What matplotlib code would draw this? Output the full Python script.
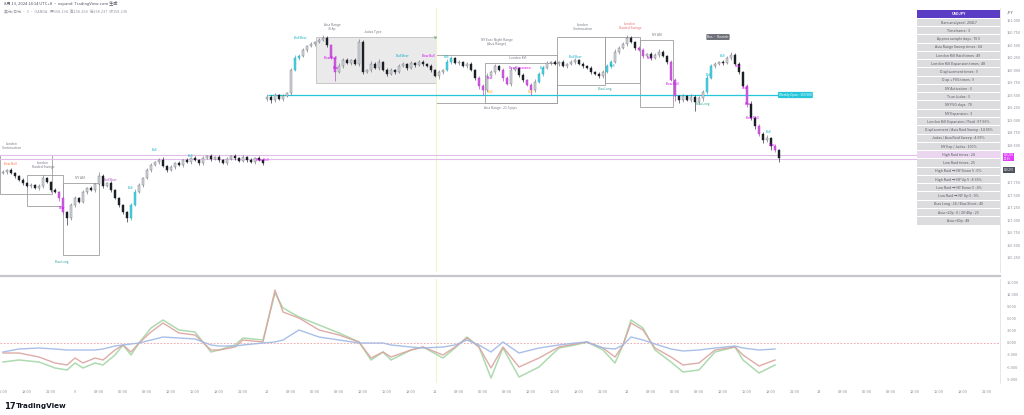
import matplotlib
matplotlib.use("Agg")
import matplotlib.pyplot as plt
from matplotlib.patches import Rectangle
from matplotlib.transforms import blended_transform_factory

plt.rcParams['font.family'] = ['Noto Sans CJK SC', 'DejaVu Sans']

W, H = 1024, 415

# ---- price data (3m USDJPY) ----
closes = [
    157.96, 158.00, 157.94, 157.88, 157.80, 157.74, 157.68, 157.70, 157.64, 157.68,
    157.84, 157.76, 157.60, 157.56, 157.44, 157.16, 157.04, 157.30, 157.44, 157.36,
    157.56, 157.64, 157.60, 157.72, 157.88, 157.68, 157.74, 157.60, 157.44, 157.30,
    157.16, 157.04, 157.30, 157.56, 157.70, 157.84, 158.00, 158.10, 158.16, 158.20,
    158.08, 158.00, 158.06, 158.14, 158.10, 158.20, 158.16, 158.24, 158.20, 158.14,
    158.24, 158.28, 158.22, 158.26, 158.20, 158.14, 158.22, 158.28, 158.24, 158.18,
    158.26, 158.20, 158.16, 158.24, 158.20, 158.14,
    159.46, 159.40, 159.50, 159.42, 159.48, 159.54, 160.00, 160.24, 160.28, 160.40,
    160.48, 160.52, 160.56, 160.60, 160.64, 160.50, 160.24, 159.96, 160.08, 160.20,
    160.14, 160.20, 160.12, 160.56, 159.96, 160.00, 160.12, 160.04, 160.16, 160.00,
    159.92, 160.00, 159.96, 160.08, 160.12, 160.04, 160.14, 160.10, 160.16, 160.12,
    160.08, 160.00, 159.88, 159.96, 160.00, 160.16, 160.24, 160.14, 160.16, 160.08,
    160.12, 160.00, 159.84, 159.68, 159.60, 159.88, 159.96, 160.08, 160.00, 159.84,
    159.72, 160.00, 160.04, 159.90, 159.80, 159.70, 159.60, 159.76, 159.92, 160.04,
    160.14, 160.16, 160.12, 160.16, 160.08, 160.12, 160.16, 160.20, 160.12, 160.08,
    160.04, 159.96, 159.92, 159.88, 159.96, 160.08, 160.16, 160.36, 160.44, 160.52,
    160.64, 160.56, 160.44, 160.40, 160.28, 160.32, 160.24, 160.30, 160.36, 160.28,
    160.16, 159.80, 159.48, 159.40, 159.48, 159.40, 159.46, 159.36, 159.44, 159.56,
    159.84, 160.08, 160.12, 160.16, 160.14, 160.24, 160.30, 160.12, 159.96, 159.68,
    159.32, 159.04, 158.88, 158.72, 158.60, 158.64, 158.48, 158.40, 158.24,
]
first_open = 157.94
gap_bar, gap_open = 66, 159.42
wick_step = 0.02
upper_wick = ("2121121212" "3112111221" "2121421211" "1123212212" "3121212121"
              "2121212121" "2121213221" "2123221212" "3212322123" "2132312212"
              "2121221212" "1321212212" "2322122321" "2123222121" "2122121212"
              "2223223212" "2122321221" "2132223221" "2232212322" "23121")
lower_wick = ("1212121212" "2121327221" "1212121212" "2421121212" "1212121212"
              "2121212121" "1212122321" "2121212121" "1219121212" "2121212121"
              "1212121213" "2121212123" "5212131212" "2152121212" "1212121212"
              "2121212121" "2121212153" "2129232121" "2121213232" "32424")
magenta_bars = [14, 15, 82, 83, 119, 120, 125, 126, 131, 132, 159, 160, 167, 168, 186, 189, 193]
cyan_bars = [32, 33, 73, 74, 111, 112, 134, 135, 151, 152, 176, 177]

# ---- drawings on the chart ----
boxes = [(-0.75, 12.25, 158.30, 157.52), (6, 15, 157.90, 157.28), (15, 24, 157.74, 156.30),
         (78.25, 108.25, 160.66, 159.74), (108.25, 138.5, 160.30, 159.34),
         (120.5, 138.5, 160.14, 159.34), (138.5, 150.5, 160.66, 159.70),
         (150.5, 159.25, 160.66, 159.74), (159.25, 167.5, 160.60, 159.26)]
box_fill = [False, False, False, True, False, False, False, False, False]
box_text = ["London\nContinuation", "London\nRaided Swings", "NY AM", "Asia Range\n33.8p",
            "Judas Type", "NY Exec Night Range\n(Asia Range)", "London Kill",
            "Asia Range : 21.5 pips", "London\nContinuation", "London\nRaided Swings", "NY AM"]
box_text_x = [2.25, 10, 19.25, 82.25, 92.5, 123.5, 128.75, 124.25, 145, 156.75, 163.5]
box_text_y = [158.40, 158.02, 157.80, 160.78, 160.72, 160.48, 160.20, 159.20, 160.78, 160.80, 160.66]
box_text_c = ['#787b86'] * 9 + ['#e57373', '#787b86']

MG, CY, OR, GR = '#d500f9', '#00acc1', '#ffa000', '#26a69a'
tag_text = ["Bear Bull", "Bear", "Bull Bear", "Bull", "Bull", "Bull", "Bear Bull", "Bias Long",
            "Bull Bear", "Bear Bull", "Bear", "Bull Bear", "Bear Bull", "Bull", "Bear", "Bull",
            "Bear Expansion", "Bull", "Bull", "Bull Bear", "Bias Long", "Bull", "Bear", "Bear Bull",
            "Bias Long", "Bull", "Bull", "Bear", "Bear", "Bear", "Bear Bull", "Bull", "Bear"]
tag_x = [1.75, 14.75, 26.75, 31.75, 38, 46.75, 64.75, 14.75, 74.25, 81.75, 83.25, 99.75, 106.25,
         111, 121.75, 121.75, 129.25, 131.75, 134.75, 143, 150.5, 152.25, 161.75, 167.25, 175,
         176.25, 179.75, 183.75, 185.5, 186.25, 187.25, 191.25, 192.25]
tag_y = [158.12, 157.24, 157.80, 157.64, 158.40, 158.28, 158.20, 156.16, 160.64, 160.24, 160.04,
         160.28, 160.28, 160.26, 159.84, 159.56, 160.04, 159.56, 160.04, 160.26, 159.62, 160.08,
         160.24, 159.72, 159.32, 159.90, 160.28, 160.08, 159.64, 159.32, 159.04, 158.76, 158.50]
tag_c = ['#ff7043', MG, '#ab47bc', CY, CY, CY, MG, GR, CY, MG, MG, CY, MG, CY, MG, OR,
         MG, OR, CY, CY, GR, CY, MG, MG, GR, CY, CY, MG, MG, MG, MG, CY, MG]

weekly_open = 159.50
raid_levels = [158.30, 158.22]
last_price, last_label, ref_price, ref_label = 158.26, "158.238", 158.00, "158.270"

# ticks under the two price tags are hidden, as on the reference
price_ticks = [156.25, 156.50, 156.75, 157.00, 157.25, 157.50, 157.75,
               158.50, 158.75, 159.00, 159.25, 159.50, 159.75, 160.00, 160.25, 160.50,
               160.75, 161.00]

# ---- oscillator panel ----
osc_x = [0, 4, 9, 13, 16, 18, 20, 23, 25, 28, 30, 32, 34, 37, 40, 44, 48, 52, 54, 58,
         60, 65, 68, 70, 74, 79, 84, 89, 92, 95, 97, 102, 105, 110, 113, 116, 119, 122, 125, 129,
         134, 139, 143, 146, 150, 153, 155, 157, 160, 163, 167, 170, 174, 178, 183, 185, 189, 193]
osc_blue = [-2.25, -1.5, -1.25, -1.5, -1.75, -1.75, -1.75, -1.75, -1.5, -0.75,
            -0.5, -0.25, 0, 0.75, 1.5, 1.25, 1.0, -0.5, -0.75, -0.75,
            -0.5, 0, 0.25, 0.75, 3.25, 1.5, 0.75, 0, 0, 0,
            -0.5, -1.0, -1.25, -1.0, -0.5, 0.75, -0.5, -2.25, 0.25, -2.5,
            -1.25, -0.5, 0, 0.25, -1.25, -1.5, -0.5, 1.5, 0.75, -0.25,
            -1.5, -2.0, -1.75, -1.25, -0.75, -1.25, -1.75, -1.5]
osc_red = [-2.5, -2.5, -3.5, -5, -5.5, -3.75, -5, -3.75, -4.25, -1.75,
           -0.5, -2.25, 0, 2.75, 5, 2.5, 2, -1.75, -1.75, -1,
           0.75, 0.25, 13.25, 7.75, 6.25, 3.25, 2, 0.25, -3.75, -2.25,
           -3.5, -1.75, -1, -3, -1, 1.25, -1, -6.25, -1, -6,
           -3.75, -1, -0.25, 0.25, -1.25, -3.5, -0.5, 5, 3.25, -1.25,
           -3.5, -5.5, -5, -1.75, -1, -3, -5.75, -4.25]
osc_green = [-4.75, -4.25, -4.75, -6.25, -6.75, -5, -6.25, -5, -5.5, -3,
             -0.5, -3, 0, 3.75, 5.75, 3.25, 2.75, -2.25, -1.75, -0.5,
             1.25, 0.75, 12.5, 8.75, 6.5, 4.5, 2.5, 0.25, -4.25, -2.25,
             -4.25, -1.75, -1, -3.75, -1.25, 1.5, -1, -8.75, -1.25, -8.5,
             -6, -1.25, -0.5, 0.25, -1.75, -5, -0.5, 5.75, 3.75, -1.75,
             -4.75, -7.25, -6.75, -2.25, -1, -4.25, -7.5, -5.5]
osc_ticks = [-9, -6, -3, 0, 3, 6, 9, 12, 15]

time_labels = ["15:00", "18:00", "21:00", "9", "03:00", "06:00", "09:00", "12:00", "15:00",
               "18:00", "21:00", "10", "03:00", "06:00", "09:00", "12:00", "15:00", "18:00",
               "11", "03:00", "06:00", "09:00", "12:00", "15:00", "18:00", "21:00", "12",
               "03:00", "06:00", "09:00", "12:00", "15:00", "18:00", "21:00", "13", "03:00",
               "06:00", "09:00", "12:00", "15:00", "18:00", "21:00"]

table_rows = ["USDJPY", "Bars analyzed : 20417", "Timeframe : 3", "Approx sample days : 70.9",
              "Asia Range Sweep times : 64", "London Kill Raid times : 49",
              "London Kill Expansion times : 48", "Displacement times : 9", "Disp + FVG times : 9",
              "NY Activation : 3", "True Judas : 3", "NY FVG days : 70", "NY Expansion : 3",
              "London Kill Expansion / Raid : 97.96%", "Displacement / Asia Raid Sweep : 14.06%",
              "Judas / Asia Raid Sweep : 4.69%", "NY Exp / Judas : 100%", "High Raid times : 24",
              "Low Raid times : 25", "High Raid → NY Down 5 : 0%", "High Raid → NY Up 5 : 8.33%",
              "Low Raid → NY Down 5 : 4%", "Low Raid → NY Up 5 : 0%",
              "Bias Long : 24 / Bias Short : 40", "Asia <20p : 0 / 20-40p : 23", "Asia >40p : 48"]


def fig_rect(x0, y0, x1, y1):
    # pixel box -> figure fraction [left, bottom, width, height]
    return [x0 / W, 1 - y1 / H, (x1 - x0) / W, (y1 - y0) / H]


fig = plt.figure(figsize=(W / 100, H / 100), dpi=100)
fig.patch.set_facecolor('white')
axis_col = '#8a8e99'
xlim = (-0.75, 249.25)
day_line = '#eef3c8'

# ---- main price panel ----
ax = fig.add_axes(fig_rect(0, 8, 1000, 272))
ax.set_xlim(*xlim)
ax.set_ylim(155.96, 161.24)
for s in ['left', 'top', 'bottom']:
    ax.spines[s].set_visible(False)
ax.spines['right'].set_color('#e0e3eb')
ax.spines['right'].set_linewidth(0.6)
ax.set_xticks([])
ax.yaxis.tick_right()
ax.set_yticks(price_ticks)
ax.set_yticklabels([f"{p:.3f}" for p in price_ticks])
ax.tick_params(axis='y', length=0, labelsize=2.8, labelcolor=axis_col, pad=5)

for (x0, x1, top, bot), filled in zip(boxes, box_fill):
    ax.add_patch(Rectangle((x0, bot), x1 - x0, top - bot, facecolor='#dcdcdc' if filled else 'none',
                           alpha=0.6 if filled else 1, edgecolor='#9e9e9e', lw=0.6, zorder=1))
for t, x, y, c in zip(box_text, box_text_x, box_text_y, box_text_c):
    ax.text(x, y, t, fontsize=2.4, color=c, ha='center', va='bottom', linespacing=1.1, zorder=5)

ax.axvline(108.25, color=day_line, lw=0.7, zorder=1)
for lv in raid_levels:
    ax.axhline(lv, color='#e1bee7', lw=0.8, zorder=1)
ax.hlines(weekly_open, 66.25, 193.75, color='#26c6da', lw=0.9, zorder=2)
ax.text(194, weekly_open, "Weekly Open : 159.500", fontsize=2.3, color='white', ha='left', va='center',
        bbox=dict(boxstyle='round,pad=0.35', fc='#26c6da', ec='none'), zorder=6)
ax.text(178.75, 160.66, "Bos · Bearish", fontsize=2.3, color='white', ha='center', va='center',
        bbox=dict(boxstyle='round,pad=0.3', fc='#6d6f78', ec='none'), zorder=6)
ax.text(108.25, 160.64, "NY", fontsize=2.3, color='#43a047', ha='center', va='center', zorder=6)

# candles
opens = [first_open] + closes[:-1]
opens[gap_bar] = gap_open
for i, (o, c) in enumerate(zip(opens, closes)):
    hi = max(o, c) + int(upper_wick[i]) * wick_step
    lo = min(o, c) - int(lower_wick[i]) * wick_step
    if i in magenta_bars:
        face, edge = '#d05ce3', '#b03cc3'
    elif i in cyan_bars:
        face, edge = '#4dd0e1', '#26a6b8'
    elif c >= o:
        face, edge = '#d4d6dc', '#70737c'
    else:
        face, edge = '#1c1f26', '#1c1f26'
    ax.vlines(i, lo, hi, color=edge, lw=0.45, zorder=3)
    ax.bar(i, max(abs(c - o), 0.012), bottom=min(o, c), width=0.62, color=face,
           edgecolor=edge, linewidth=0.3, zorder=4)

for t, x, y, c in zip(tag_text, tag_x, tag_y, tag_c):
    ax.text(x, y, t, fontsize=2.2, color=c, ha='center', va='center', zorder=6)

tr = blended_transform_factory(ax.transAxes, ax.transData)
ax.text(1.004, last_price, last_label + "\n00:39", transform=tr, fontsize=2.0, color='white',
        ha='left', va='center', linespacing=0.95,
        bbox=dict(boxstyle='square,pad=0.2', fc='#e040fb', ec='none'), zorder=7, clip_on=False)
ax.text(1.004, ref_price, ref_label, transform=tr, fontsize=2.0, color='white', ha='left',
        va='center', bbox=dict(boxstyle='square,pad=0.2', fc='#50535e', ec='none'), zorder=7,
        clip_on=False)

# ---- oscillator panel ----
ax2 = fig.add_axes(fig_rect(0, 279, 1000, 383))
ax2.set_xlim(*xlim)
ax2.set_ylim(-10, 16)
for s in ['left', 'top', 'bottom']:
    ax2.spines[s].set_visible(False)
ax2.spines['right'].set_color('#e0e3eb')
ax2.spines['right'].set_linewidth(0.6)
ax2.yaxis.tick_right()
ax2.set_yticks(osc_ticks)
ax2.set_yticklabels([f"{v:.3f}" for v in osc_ticks])
ax2.set_xticks(list(range(0, 6 * len(time_labels), 6)))
ax2.set_xticklabels(time_labels)
ax2.tick_params(axis='both', length=0, labelsize=2.8, labelcolor=axis_col)
ax2.tick_params(axis='y', pad=5)
ax2.tick_params(axis='x', pad=5)
ax2.axhline(0, color='#ef9a9a', lw=0.6, ls=(0, (2, 2)))
ax2.axvline(108.25, color=day_line, lw=0.7)
ax2.plot(osc_x, osc_green, color='#a5d6a7', lw=1.1, alpha=0.9)
ax2.plot(osc_x, osc_red, color='#dba39e', lw=1.0, alpha=0.9)
ax2.plot(osc_x, osc_blue, color='#9fb8e6', lw=1.0, alpha=0.9)

# panel separator
fig.add_artist(plt.Line2D([0, 1000 / W], [1 - 276 / H] * 2, color='#c4c6cc', lw=1.6))

# ---- stats table ----
tab = fig.add_axes(fig_rect(917, 10, 1000, 225))
tab.set_xlim(0, 1)
tab.set_ylim(len(table_rows), 0)
tab.axis('off')
for r, txt in enumerate(table_rows):
    if r == 0:
        fc, tc, fw = '#5b3cc4', 'white', 'bold'
    elif txt.startswith("High Raid times"):
        fc, tc, fw = '#ead6ee', '#55585f', 'normal'
    else:
        fc, tc, fw = '#dcdcde', '#55585f', 'normal'
    tab.add_patch(Rectangle((0, r + 0.06), 1, 0.88, facecolor=fc, edgecolor='none'))
    tab.text(0.5, r + 0.52, txt, fontsize=2.6, color=tc, ha='center', va='center', fontweight=fw)

# ---- header / footer text ----
fig.text(1010 / W, 1 - 13 / H, "JPY", fontsize=2.8, color='#50535e', ha='center', va='center')
fig.text(4 / W, 1 - 4 / H, "8月 13, 2024 14:14 UTC+8 · expand  TradingView.com 生成", fontsize=3.0,
         color='#50535e', ha='left', va='center')
fig.text(4 / W, 1 - 12 / H, "美元/日元 · 3 · OANDA   开158.294  高158.294  低158.237  收158.238",
         fontsize=2.8, color='#9598a1', ha='left', va='center')
fig.text(4 / W, 1 - 406 / H, "17", fontsize=6, color='#131722', ha='left', va='center',
         fontweight='heavy', family='DejaVu Sans')
fig.text(16 / W, 1 - 406 / H, "TradingView", fontsize=5.2, color='#131722', ha='left', va='center',
         fontweight='bold', family='DejaVu Sans')

fig.savefig("out.png", dpi=100, facecolor='white')
